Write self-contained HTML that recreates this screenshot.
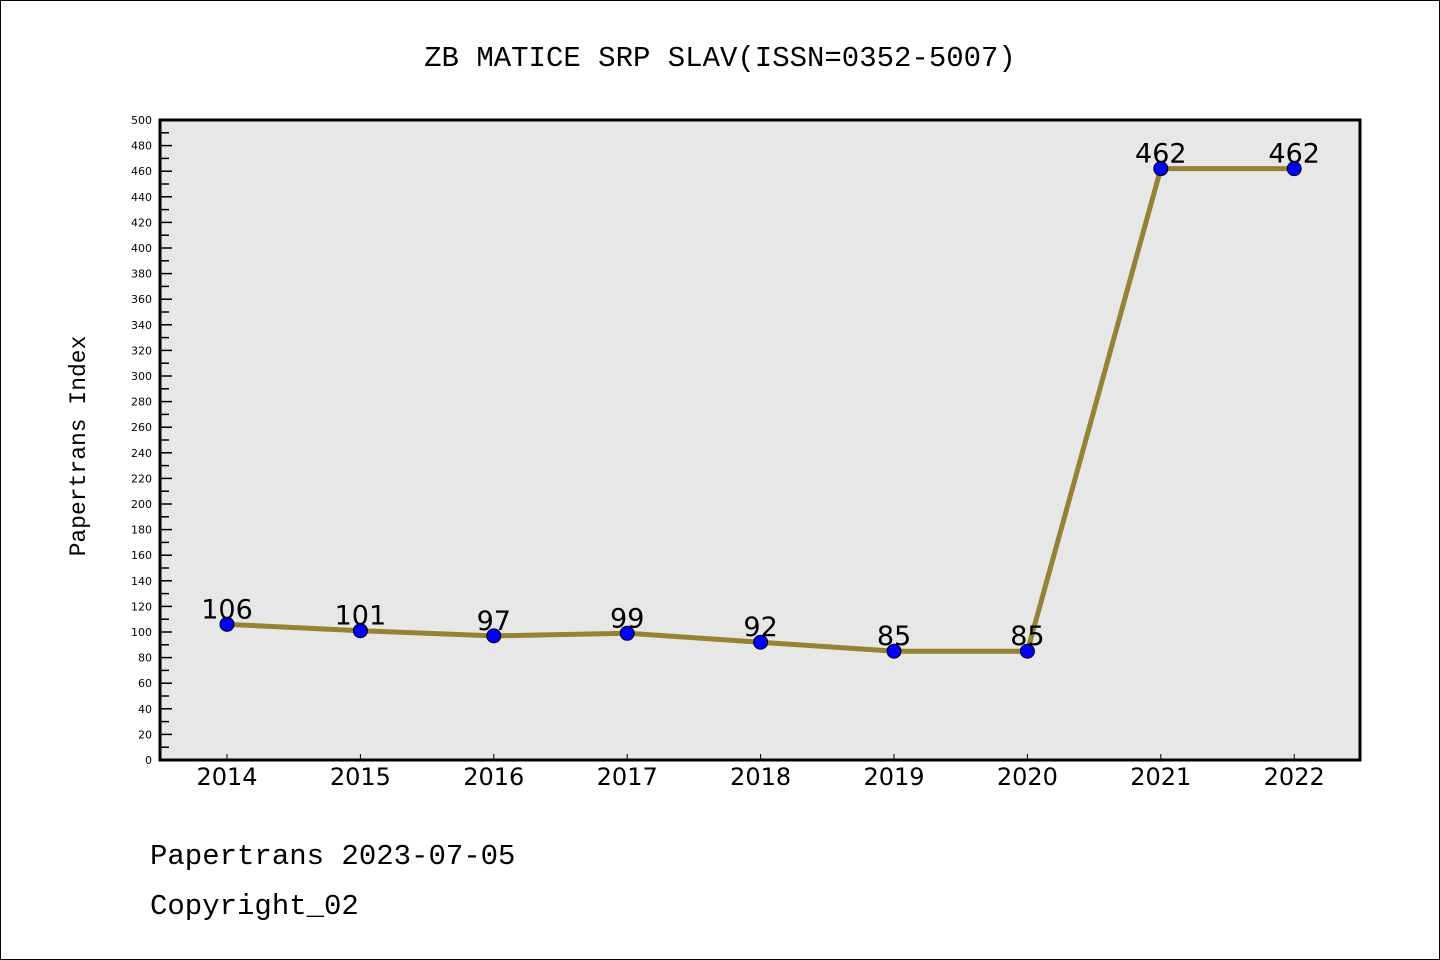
<!DOCTYPE html>
<html><head><meta charset="utf-8"><style>body{margin:0;background:#fff}svg{display:block}</style></head>
<body>
<svg id="c" width="1440" height="960" xmlns="http://www.w3.org/2000/svg" font-family="'Liberation Mono','DejaVu Sans Mono',monospace">
<rect x="0.5" y="0.5" width="1439" height="959" fill="#fff" stroke="#000"/>
<text x="720" y="66" text-anchor="middle" font-size="29">ZB MATICE SRP SLAV(ISSN=0352-5007)</text>
<rect x="160" y="120" width="1200" height="640" fill="#e7e7e7"/>
<g id="axes"></g>
<g id="marks"></g>
<rect x="160" y="120" width="1200" height="640" fill="none" stroke="#000" stroke-width="3"/>
<text transform="translate(85,446) rotate(-90)" text-anchor="middle" font-size="23">Papertrans Index</text>
<text x="150" y="864" font-size="29">Papertrans 2023-07-05</text>
<text x="150" y="914" font-size="29">Copyright_02</text>
</svg>
<script>
const years = ["2014","2015","2016","2017","2018","2019","2020","2021","2022"];
const values = [106,101,97,99,92,85,85,462,462];
const yMax = 500;
const yStep = 20;
const NS="http://www.w3.org/2000/svg";
const X=i=>227+i*133.4;
const Y=v=>760-v/yMax*640;
function mk(t,a,p){const e=document.createElementNS(NS,t);for(const k in a)e.setAttribute(k,a[k]);p.appendChild(e);return e;}
const ax=document.getElementById('axes'), mg=document.getElementById('marks');
for(let v=0;v<=yMax;v+=10){
  const major=v%yStep===0;
  const l=mk('line',{x1:160,x2:major?172:169,y1:Y(v),y2:Y(v),stroke:'#000','stroke-width':1.5},ax);
  
  
  if(major){const t=mk('text',{x:152,y:Y(v)+4,'text-anchor':'end','font-size':11,'font-family':'DejaVu Sans,sans-serif'},ax);t.textContent=v;
  
  }
}
years.forEach((y,i)=>{
  const l=mk('line',{x1:X(i),x2:X(i),y1:760,y2:754,stroke:'#000'},ax);
  
  
  const t=mk('text',{x:X(i),y:785,'text-anchor':'middle','font-size':24,'font-family':'DejaVu Sans,sans-serif'},ax);t.textContent=y;
  
  
});
const pl=mk('polyline',{points:values.map((v,i)=>X(i)+','+Y(v)).join(' '),fill:'none',stroke:'#948235','stroke-width':5},mg);


values.forEach((v,i)=>{
  const c=mk('circle',{cx:X(i),cy:Y(v),r:7,fill:'#0000ff',stroke:'#000','stroke-width':1},mg);
  
  
  const t=mk('text',{x:X(i),y:Y(v)-6,'text-anchor':'middle','font-size':27,'font-family':'DejaVu Sans,sans-serif'},mg);t.textContent=v;
  
  
});
</script>
</body></html>
